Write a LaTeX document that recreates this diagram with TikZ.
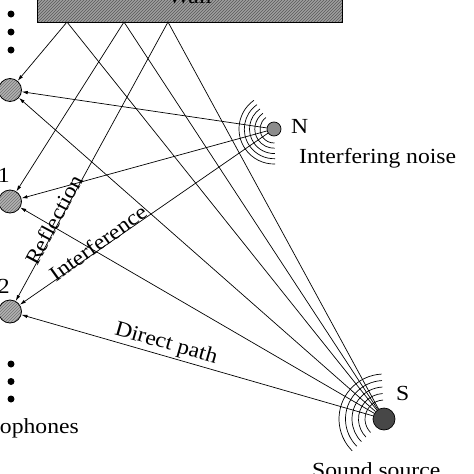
\documentclass[tikz,border=0pt]{standalone}
\usepackage{fontspec}
\setmainfont{Liberation Serif}[FakeStretch=1.1]
\usetikzlibrary{arrows.meta,patterns}
\begin{document}
\begin{tikzpicture}[x=1pt,y=-1pt,
  font=\fontsize{21.5pt}{24pt}\selectfont,
  ray/.style={line width=0.7pt,-{Latex[length=6pt,width=3.5pt]}},
  wave/.style={line width=0.7pt},
  mic/.style={circle,draw,line width=0.8pt,preaction={fill=black!30},pattern=north east lines,pattern color=black!55,minimum size=23pt,inner sep=0pt},
  noise/.style={circle,draw,line width=0.7pt,fill=black!45,minimum size=14pt,inner sep=0pt},
  src/.style={circle,draw,line width=0.7pt,fill=black!72,minimum size=22pt,inner sep=0pt},
  dotmark/.style={circle,fill=black,minimum size=7pt,inner sep=0pt},
  lbl/.style={inner sep=0pt},
  wallbox/.style={draw,line width=0.8pt,preaction={fill=black!38},pattern=north east lines,pattern color=black!65}
]
\useasboundingbox (0,0) rectangle (474,474);
\clip (0,0) rectangle (474,474);
% wall
\draw[wallbox] (37,-40) rectangle (342,22);
\node[lbl,anchor=base] (wall) at (190,3) {Wall};
\coordinate (A) at (67,22);
\coordinate (B) at (124,22);
\coordinate (C) at (168,22);
% microphones
\node[mic] (m0) at (10,90) {};
\node[mic] (m1) at (10,201.5) {};
\node[mic] (m2) at (10,311.5) {};
\node[lbl,anchor=base east] (l1) at (10,182) {1};
\node[lbl,anchor=base east] (l2) at (10,293) {2};
\node[dotmark] (d1) at (11,14) {};
\node[dotmark] (d2) at (11,32) {};
\node[dotmark] (d3) at (11,50) {};
\node[dotmark] (d4) at (11,364) {};
\node[dotmark] (d5) at (11,381.5) {};
\node[dotmark] (d6) at (11,399) {};
\node[lbl,anchor=base east] (micl) at (79,433) {Microphones};
% sources
\node[noise] (N) at (274,129) {};
\node[src] (S) at (384,419) {};
\node[lbl,anchor=base west] (Nl) at (291,133) {N};
\node[lbl,anchor=base west] (Nt) at (299,163) {Interfering noise};
\node[lbl,anchor=base west] (Sl) at (396,400) {S};
\node[lbl,anchor=base west] (St) at (312,477) {Sound source};
% waves
\foreach \r in {14,19.2,24.5,29.7,35}
  \draw[wave] (N.center) ++(-125:\r) arc[start angle=-125,end angle=-272,radius=\r];
\foreach \r in {19,25.5,32,38.5,45}
  \draw[wave] (S.center) ++(-93:\r) arc[start angle=-93,end angle=-225,radius=\r];
% reflections
\draw[ray] (S) -- (A) -- (m0);
\draw[ray] (S) -- (B) -- (m1);
\draw[ray] (S) -- (C) -- (m2);
% interference
\draw[ray] (N) -- (m0);
\draw[ray] (N) -- (m1);
\draw[ray] (N) -- (m2);
% direct
\draw[ray] (S) -- (m0);
\draw[ray] (S) -- (m1);
\draw[ray] (S) -- (m2);
% labels
\node[lbl,rotate=62] (refl) at (54,220) {Reflection};
\node[lbl,rotate=35.7] (intf) at (98,243) {Interference};
\node[lbl,rotate=-16] (dir) at (166,344) {Direct path};
\end{tikzpicture}
\end{document}
